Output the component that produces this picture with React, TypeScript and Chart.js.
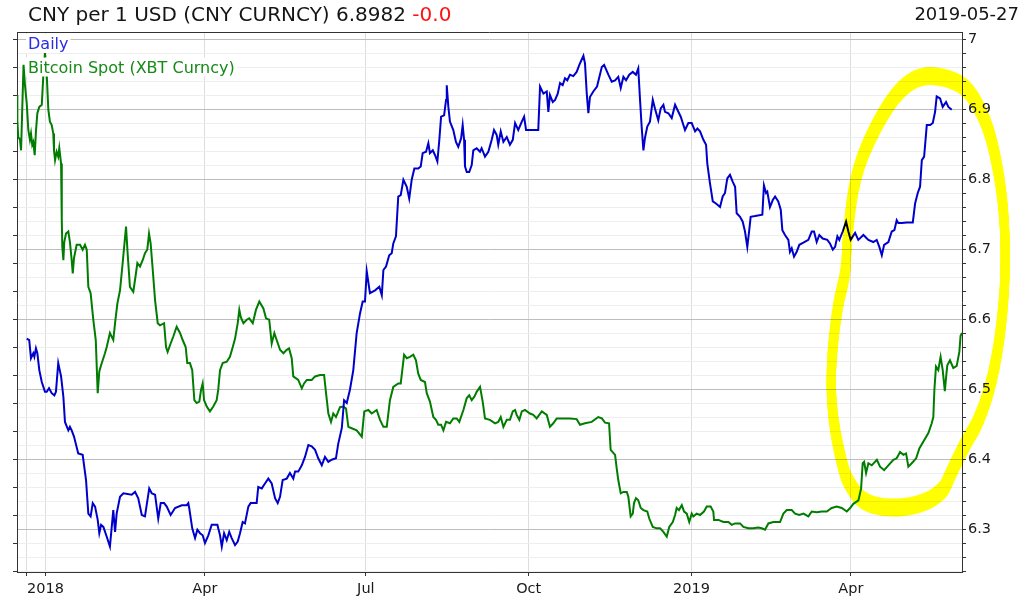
import { useEffect, useRef } from 'react';
import { Chart, registerables } from 'chart.js';

Chart.register(...registerables);

const FONT = "'DejaVu Sans', sans-serif";

const titleMain = 'CNY per 1 USD (CNY CURNCY) 6.8982';
const titleChange = '-0.0';
const dateLabel = '2019-05-27';
const legendLabels = ['Daily', 'Bitcoin Spot (XBT Curncy)'];

// x axis: days since 2018-01-01
const xMin = -16.1;
const xMax = 517.8;
const xTickDays = [-10.5, 0, 90, 181, 273, 365, 455];
const xTickLabels = ['', '2018', 'Apr', 'Jul', 'Oct', '2019', 'Apr'];

const yMin = 6.2386;
const yMax = 7.01;
const yLabelValues = [6.3, 6.4, 6.5, 6.6, 6.7, 6.8, 6.9, 7.0];
const yLabelTexts = ['6.3', '6.4', '6.5', '6.6', '6.7', '6.8', '6.9', '7'];

// CNY per USD (day, value)
const cnyPoints: [number, number][] = [
  [-10.6,6.572],[-9.2,6.570],[-8.2,6.544],[-6.9,6.551],[-6.3,6.546],[-5.4,6.558],[-4.6,6.551],[-3.5,6.527],[-2.1,6.510],[-0.3,6.496],[0.7,6.496],[2.0,6.501],[3.5,6.494],[5.0,6.491],[5.9,6.496],[7.2,6.537],[8.8,6.518],[10.1,6.489],[11.0,6.453],[12.9,6.441],[13.8,6.446],[14.8,6.441],[16.1,6.432],[18.5,6.408],[21.0,6.406],[22.9,6.370],[24.2,6.322],[25.5,6.318],[26.7,6.337],[28.0,6.332],[29.5,6.313],[30.4,6.294],[31.4,6.306],[32.7,6.303],[34.6,6.289],[36.4,6.275],[38.3,6.327],[39.3,6.296],[40.2,6.322],[42.1,6.346],[44.0,6.351],[48.7,6.349],[50.6,6.353],[52.4,6.344],[54.4,6.320],[56.2,6.318],[58.6,6.358],[60.0,6.351],[61.9,6.349],[63.7,6.315],[65.1,6.337],[67.0,6.337],[68.5,6.332],[70.7,6.320],[73.2,6.330],[77.0,6.334],[79.8,6.334],[80.7,6.337],[81.2,6.330],[82.9,6.301],[84.5,6.287],[85.8,6.299],[87.3,6.294],[88.8,6.291],[90.1,6.280],[92.0,6.291],[93.9,6.306],[97.1,6.306],[98.6,6.291],[99.6,6.275],[100.9,6.294],[102.4,6.284],[103.8,6.296],[105.2,6.287],[107.1,6.277],[108.6,6.282],[109.9,6.294],[111.4,6.310],[112.7,6.308],[114.6,6.332],[115.9,6.337],[119.3,6.337],[120.2,6.360],[122.2,6.358],[124.0,6.365],[125.9,6.372],[127.8,6.365],[129.7,6.344],[131.2,6.337],[132.5,6.346],[134.0,6.370],[136.3,6.372],[138.1,6.380],[140.0,6.372],[141.0,6.382],[142.8,6.382],[144.8,6.391],[146.6,6.403],[148.5,6.420],[150.4,6.418],[152.3,6.413],[154.1,6.401],[156.1,6.391],[157.9,6.403],[159.8,6.396],[161.7,6.399],[164.1,6.401],[165.4,6.422],[167.4,6.444],[168.7,6.484],[170.2,6.480],[172.0,6.499],[173.9,6.527],[175.8,6.580],[177.7,6.608],[179.2,6.625],[180.5,6.625],[181.5,6.668],[183.3,6.637],[186.2,6.641],[188.6,6.646],[190.0,6.634],[190.9,6.670],[192.4,6.675],[194.2,6.691],[195.6,6.694],[196.5,6.708],[198.0,6.718],[199.3,6.775],[200.7,6.777],[202.2,6.799],[204.1,6.789],[205.5,6.772],[206.9,6.799],[208.4,6.815],[210.6,6.815],[212.0,6.818],[213.1,6.837],[215.0,6.839],[216.3,6.851],[217.2,6.837],[218.8,6.841],[220.1,6.834],[221.4,6.825],[222.5,6.856],[223.5,6.889],[225.2,6.891],[226.3,6.913],[226.7,6.934],[227.6,6.903],[228.5,6.882],[230.4,6.870],[231.9,6.853],[233.2,6.846],[234.8,6.858],[235.7,6.877],[236.5,6.856],[237.0,6.818],[238.0,6.810],[239.4,6.810],[240.8,6.820],[241.7,6.841],[243.6,6.844],[245.5,6.839],[246.4,6.844],[248.3,6.832],[250.2,6.839],[252.1,6.856],[253.4,6.870],[254.9,6.863],[255.8,6.849],[257.2,6.868],[258.7,6.853],[260.6,6.860],[262.4,6.849],[264.0,6.856],[265.3,6.880],[267.1,6.870],[269.1,6.882],[270.4,6.889],[271.5,6.870],[273.7,6.870],[278.4,6.870],[279.4,6.932],[281.3,6.922],[283.2,6.925],[284.1,6.896],[285.0,6.920],[286.6,6.910],[287.9,6.913],[289.4,6.922],[290.7,6.937],[292.2,6.934],[293.5,6.944],[294.8,6.941],[296.3,6.949],[298.2,6.947],[300.1,6.953],[301.6,6.963],[303.9,6.976],[304.8,6.965],[305.8,6.922],[306.7,6.894],[307.6,6.917],[309.5,6.925],[311.6,6.932],[314.3,6.960],[315.6,6.963],[318.0,6.949],[319.9,6.939],[321.8,6.941],[323.6,6.946],[325.0,6.930],[326.5,6.946],[328.0,6.941],[329.8,6.949],[331.8,6.953],[333.6,6.949],[334.9,6.958],[335.9,6.913],[336.8,6.875],[337.8,6.841],[338.7,6.859],[340.0,6.875],[341.5,6.882],[343.1,6.913],[344.4,6.900],[346.2,6.884],[347.6,6.901],[349.1,6.906],[350.0,6.896],[351.9,6.894],[353.8,6.887],[355.7,6.906],[357.0,6.899],[358.9,6.889],[361.3,6.870],[363.2,6.880],[365.1,6.880],[367.0,6.868],[368.3,6.872],[369.8,6.868],[371.7,6.856],[373.2,6.849],[373.9,6.822],[375.4,6.794],[377.0,6.768],[378.8,6.765],[381.1,6.760],[382.6,6.775],[383.9,6.780],[385.2,6.801],[386.7,6.806],[388.3,6.796],[389.6,6.789],[390.5,6.751],[392.4,6.746],[393.9,6.739],[395.2,6.725],[396.5,6.703],[397.6,6.727],[398.4,6.746],[400.9,6.747],[405.0,6.749],[405.9,6.791],[407.1,6.780],[407.8,6.782],[409.3,6.760],[410.9,6.770],[412.2,6.775],[414.0,6.768],[415.4,6.756],[416.3,6.727],[417.8,6.720],[419.7,6.713],[420.6,6.696],[421.6,6.701],[422.9,6.689],[424.4,6.696],[425.9,6.706],[428.2,6.709],[431.0,6.713],[432.9,6.725],[434.2,6.725],[435.7,6.710],[437.2,6.720],[439.1,6.715],[441.7,6.713],[443.2,6.708],[444.8,6.699],[446.1,6.703],[447.4,6.718],[448.5,6.713],[450.4,6.725],[452.3,6.739],[453.6,6.725],[454.9,6.713],[457.4,6.723],[459.2,6.713],[462.1,6.720],[464.9,6.713],[467.7,6.710],[469.6,6.713],[471.1,6.703],[472.5,6.691],[473.8,6.706],[476.2,6.710],[478.1,6.725],[479.6,6.727],[480.9,6.741],[481.8,6.737],[483.8,6.737],[486.6,6.738],[490.0,6.738],[491.3,6.765],[492.8,6.780],[494.1,6.789],[495.1,6.827],[496.4,6.832],[497.9,6.877],[499.8,6.877],[501.3,6.880],[502.6,6.896],[503.5,6.918],[505.4,6.915],[506.9,6.903],[508.8,6.910],[510.1,6.903],[512.0,6.899]
];

// Bitcoin spot, plotted on the same scale (day, value)
const xbtPoints: [number, number][] = [
  [-16.1,6.920],[-15.9,6.884],[-15.4,6.860],[-14.4,6.856],[-13.8,6.841],[-13.1,6.903],[-12.4,6.963],[-11.6,6.934],[-10.6,6.908],[-9.7,6.870],[-8.8,6.856],[-8.2,6.865],[-7.5,6.849],[-6.9,6.853],[-6.1,6.834],[-5.4,6.868],[-4.6,6.894],[-3.5,6.903],[-2.1,6.906],[-1.2,6.949],[-0.3,6.981],[0.7,6.949],[1.6,6.899],[2.5,6.882],[3.5,6.877],[4.4,6.865],[4.8,6.841],[5.4,6.827],[6.3,6.839],[7.2,6.832],[7.8,6.844],[8.8,6.822],[9.2,6.741],[9.5,6.703],[10.1,6.684],[10.6,6.710],[11.6,6.722],[12.9,6.725],[13.8,6.710],[14.8,6.684],[15.4,6.665],[16.1,6.687],[17.6,6.706],[19.5,6.706],[21.0,6.699],[22.3,6.706],[23.3,6.699],[24.2,6.646],[25.5,6.637],[27.0,6.599],[28.4,6.570],[29.5,6.494],[30.4,6.525],[31.4,6.534],[33.6,6.551],[34.6,6.560],[36.4,6.580],[38.3,6.570],[39.3,6.594],[40.6,6.622],[42.1,6.641],[43.6,6.680],[45.5,6.732],[46.4,6.694],[47.7,6.646],[49.6,6.639],[51.1,6.665],[51.9,6.680],[53.4,6.675],[54.9,6.684],[56.2,6.694],[57.5,6.699],[58.5,6.722],[59.4,6.708],[60.6,6.670],[61.9,6.627],[63.4,6.594],[64.7,6.591],[67.0,6.594],[68.1,6.560],[69.0,6.553],[70.7,6.565],[72.2,6.575],[74.1,6.589],[76.0,6.580],[77.5,6.570],[79.2,6.560],[80.1,6.537],[81.6,6.537],[82.9,6.527],[84.1,6.484],[85.4,6.480],[86.9,6.482],[87.9,6.499],[88.8,6.508],[89.6,6.484],[91.1,6.475],[92.9,6.468],[94.8,6.475],[96.7,6.484],[97.6,6.499],[98.6,6.527],[100.1,6.537],[102.4,6.539],[104.2,6.546],[105.8,6.560],[107.1,6.572],[108.6,6.594],[109.5,6.613],[110.3,6.603],[111.8,6.594],[113.7,6.599],[115.1,6.601],[117.1,6.594],[118.9,6.613],[120.8,6.625],[123.1,6.615],[124.6,6.601],[126.4,6.599],[127.8,6.565],[129.3,6.580],[130.6,6.570],[132.5,6.556],[134.4,6.551],[136.3,6.556],[137.6,6.558],[139.1,6.544],[140.0,6.518],[142.8,6.513],[144.8,6.501],[146.1,6.508],[147.6,6.513],[150.4,6.513],[152.3,6.518],[155.1,6.520],[157.4,6.520],[158.5,6.494],[159.8,6.465],[161.3,6.453],[162.6,6.465],[164.1,6.460],[166.4,6.474],[168.3,6.475],[169.8,6.472],[171.1,6.446],[173.0,6.444],[175.8,6.441],[178.7,6.432],[180.1,6.468],[182.4,6.470],[184.3,6.465],[187.1,6.470],[189.0,6.456],[190.9,6.446],[192.8,6.446],[194.6,6.484],[196.5,6.503],[199.3,6.508],[200.7,6.508],[202.6,6.549],[204.1,6.544],[205.9,6.546],[207.8,6.549],[209.3,6.541],[210.6,6.522],[212.0,6.513],[214.4,6.510],[215.4,6.494],[217.2,6.482],[219.1,6.460],[220.6,6.456],[221.9,6.449],[223.5,6.449],[224.8,6.441],[226.3,6.453],[228.5,6.451],[230.4,6.458],[232.3,6.458],[233.8,6.453],[236.1,6.470],[238.0,6.487],[239.4,6.491],[240.8,6.484],[242.3,6.489],[243.6,6.496],[245.5,6.503],[247.0,6.482],[248.3,6.458],[251.1,6.456],[254.0,6.451],[255.8,6.453],[257.2,6.460],[258.7,6.446],[260.6,6.456],[262.4,6.456],[264.0,6.468],[265.3,6.470],[266.2,6.463],[267.7,6.456],[269.1,6.468],[270.9,6.470],[273.7,6.465],[275.6,6.463],[277.5,6.458],[280.4,6.468],[283.2,6.463],[285.0,6.446],[286.9,6.451],[288.8,6.458],[292.6,6.458],[296.3,6.458],[300.1,6.457],[302.0,6.449],[304.8,6.451],[308.6,6.453],[312.3,6.460],[314.3,6.458],[316.1,6.452],[318.4,6.451],[319.3,6.413],[321.8,6.406],[322.7,6.387],[323.6,6.370],[325.0,6.351],[326.5,6.353],[328.4,6.353],[329.3,6.346],[330.6,6.318],[331.8,6.322],[332.5,6.337],[333.6,6.344],[334.9,6.341],[336.3,6.330],[337.8,6.327],[340.0,6.325],[341.1,6.315],[343.1,6.303],[345.3,6.301],[347.2,6.301],[349.1,6.296],[351.0,6.289],[352.4,6.303],[354.4,6.310],[355.7,6.320],[356.6,6.330],[357.9,6.327],[359.5,6.334],[360.8,6.325],[362.3,6.322],[363.7,6.310],[365.1,6.322],[366.0,6.318],[367.9,6.322],[369.8,6.320],[372.0,6.325],[373.6,6.332],[375.8,6.332],[377.3,6.325],[377.7,6.313],[380.2,6.313],[383.0,6.310],[385.8,6.310],[387.7,6.306],[389.6,6.308],[392.4,6.308],[394.3,6.303],[397.1,6.301],[399.9,6.301],[402.7,6.302],[404.7,6.301],[406.5,6.299],[408.4,6.308],[411.2,6.310],[415.0,6.310],[416.9,6.322],[418.8,6.327],[421.6,6.327],[423.5,6.322],[425.9,6.320],[428.2,6.322],[431.0,6.318],[432.9,6.325],[435.7,6.324],[438.6,6.325],[441.4,6.325],[444.2,6.330],[447.0,6.332],[449.9,6.330],[452.7,6.325],[454.6,6.330],[456.4,6.336],[459.3,6.341],[460.8,6.358],[461.7,6.394],[462.5,6.396],[463.6,6.380],[464.9,6.394],[466.8,6.391],[469.7,6.399],[471.5,6.389],[473.8,6.384],[476.2,6.391],[479.0,6.399],[480.9,6.401],[482.8,6.410],[484.7,6.406],[486.2,6.408],[487.5,6.389],[489.4,6.394],[491.9,6.401],[493.7,6.415],[496.0,6.425],[498.8,6.437],[500.7,6.451],[501.6,6.460],[502.2,6.499],[503.1,6.532],[504.4,6.527],[505.7,6.546],[506.9,6.527],[508.1,6.497],[509.0,6.522],[509.5,6.534],[511.0,6.541],[512.9,6.530],[514.8,6.533],[516.3,6.553],[517.0,6.576],[517.8,6.580]
];

// hand-drawn yellow highlight loop (day, value)
const highlightPoints: [number, number][] = [
  [495.8,6.949],[511.0,6.944],[522.3,6.927],[531.9,6.880],[537.0,6.831],[541.5,6.760],[542.7,6.666],[539.3,6.570],[533.6,6.499],[526.3,6.449],[520.7,6.427],[511.0,6.377],[507.1,6.353],[494.1,6.334],[475.4,6.329],[461.3,6.339],[454.6,6.363],[451.2,6.380],[445.0,6.451],[443.3,6.523],[447.2,6.617],[452.3,6.666],[452.8,6.713],[457.3,6.808],[469.8,6.880],[482.8,6.930]
];

const yTickValues: number[] = [];
for (let i = 0; i <= 38; i++) yTickValues.push(Math.round((6.24 + 0.02 * i) * 1000) / 1000);

const isMajor = (v: number) => yLabelValues.some((m) => Math.abs(m - v) < 1e-6);
const yLabel = (v: number) => {
  const i = yLabelValues.findIndex((m) => Math.abs(m - v) < 1e-6);
  return i >= 0 ? yLabelTexts[i] : '';
};

const decorPlugin = {
  id: 'decor',
  beforeDraw(chart: any) {
    const ctx = chart.ctx;
    ctx.save();
    ctx.fillStyle = '#ffffff';
    ctx.fillRect(0, 0, chart.width, chart.height);
    ctx.restore();
  },
  afterDatasetsDraw(chart: any) {
    const ctx = chart.ctx;
    ctx.save();
    ctx.font = `16px ${FONT}`;
    ctx.textBaseline = 'alphabetic';
    ctx.textAlign = 'left';
    const rows = [
      { text: legendLabels[0], color: '#2b2be6', y: 49 },
      { text: legendLabels[1], color: '#168a16', y: 72.5 },
    ];
    for (const r of rows) {
      const w = ctx.measureText(r.text).width;
      ctx.fillStyle = '#ffffff';
      ctx.fillRect(26, r.y - 15, w + 4, 19);
      ctx.fillStyle = r.color;
      ctx.fillText(r.text, 28, r.y);
    }
    ctx.restore();
  },
  afterDraw(chart: any) {
    const ctx = chart.ctx;
    const a = chart.chartArea;
    ctx.save();
    // top border
    ctx.strokeStyle = '#333333';
    ctx.lineWidth = 1;
    ctx.beginPath();
    ctx.moveTo(a.left, Math.round(a.top) + 0.5);
    ctx.lineTo(a.right, Math.round(a.top) + 0.5);
    ctx.stroke();

    // title
    ctx.textBaseline = 'alphabetic';
    ctx.textAlign = 'left';
    ctx.font = `20px ${FONT}`;
    ctx.fillStyle = '#151515';
    const t = titleMain + ' ';
    ctx.fillText(t, 28, 21);
    const w = ctx.measureText(t).width;
    ctx.fillStyle = '#ff1111';
    ctx.fillText(titleChange, 28 + w, 21);

    ctx.font = `18px ${FONT}`;
    ctx.textAlign = 'right';
    ctx.fillStyle = '#151515';
    ctx.fillText(dateLabel, 1019, 19.5);

    // yellow highlighter loop
    const xs = chart.scales.x;
    const ys = chart.scales.y;
    const pts = highlightPoints.map(([d, v]) => [xs.getPixelForValue(d), ys.getPixelForValue(v)]);
    ctx.globalCompositeOperation = 'multiply';
    ctx.strokeStyle = '#ffff00';
    ctx.lineWidth = 9;
    ctx.lineCap = 'round';
    ctx.lineJoin = 'round';
    const n = pts.length;
    for (const dy of [-4.5, -3, -1.5, 0, 1.5, 3, 4.5]) {
      ctx.beginPath();
      const m0x = (pts[n - 1][0] + pts[0][0]) / 2;
      const m0y = (pts[n - 1][1] + pts[0][1]) / 2 + dy;
      ctx.moveTo(m0x, m0y);
      for (let i = 0; i < n; i++) {
        const p = pts[i];
        const q = pts[(i + 1) % n];
        ctx.quadraticCurveTo(p[0], p[1] + dy, (p[0] + q[0]) / 2, (p[1] + q[1]) / 2 + dy);
      }
      ctx.closePath();
      ctx.stroke();
    }
    ctx.restore();
  },
};

export default function App() {
  const ref = useRef<HTMLCanvasElement>(null);
  useEffect(() => {
    const canvas = ref.current;
    if (!canvas) return;
    const tickFont = { family: FONT, size: 14.5 };
    const chart = new Chart(canvas, {
      type: 'line',
      data: {
        datasets: [
          {
            label: legendLabels[0],
            data: cnyPoints.map(([d, v]) => ({ x: d, y: v })),
            borderColor: '#0000cc',
            borderWidth: 2,
            pointRadius: 0,
            tension: 0,
            fill: false,
            xAxisID: 'x',
            yAxisID: 'y',
          },
          {
            label: legendLabels[1],
            data: xbtPoints.map(([d, v]) => ({ x: d, y: v })),
            borderColor: '#007d00',
            borderWidth: 2,
            pointRadius: 0,
            tension: 0,
            fill: false,
            xAxisID: 'x',
            yAxisID: 'y',
          },
        ],
      },
      options: {
        animation: false,
        responsive: false,
        devicePixelRatio: 1,
        layout: { padding: { top: 32, left: 0, right: 0, bottom: 0 } },
        plugins: { legend: { display: false }, tooltip: { enabled: false }, title: { display: false } },
        scales: {
          x: {
            type: 'linear',
            position: 'bottom',
            min: xMin,
            max: xMax,
            afterBuildTicks: (s: any) => {
              s.ticks = xTickDays.map((v) => ({ value: v }));
            },
            afterFit: (s: any) => {
              s.height = 37;
            },
            ticks: {
              autoSkip: false,
              maxRotation: 0,
              minRotation: 0,
              padding: 5,
              color: '#1a1a1a',
              font: tickFont,
              callback: (_v: any, i: number) => xTickLabels[i] ?? '',
            },
            grid: { color: '#dddddd', tickColor: '#333333', tickLength: 4, lineWidth: 1 },
            border: { display: true, color: '#333333', width: 1 },
          },
          y: {
            type: 'linear',
            position: 'right',
            min: yMin,
            max: yMax,
            afterBuildTicks: (s: any) => {
              s.ticks = yTickValues.map((v) => ({ value: v }));
            },
            afterFit: (s: any) => {
              s.width = 66;
            },
            ticks: {
              autoSkip: false,
              padding: 2,
              color: '#1a1a1a',
              font: tickFont,
              callback: (v: any) => yLabel(Number(v)),
            },
            grid: {
              color: (c: any) => (c.tick && isMajor(c.tick.value) ? '#bdbdbd' : '#eeeeee'),
              tickColor: '#333333',
              tickLength: 4,
            },
            border: { display: true, color: '#333333', width: 1 },
          },
          yL: {
            type: 'linear',
            position: 'left',
            min: yMin,
            max: yMax,
            afterBuildTicks: (s: any) => {
              s.ticks = yTickValues.map((v) => ({ value: v }));
            },
            afterFit: (s: any) => {
              s.width = 17;
            },
            ticks: { padding: 0, font: tickFont, callback: () => '' },
            grid: { drawOnChartArea: false, tickColor: '#333333', tickLength: 4 },
            border: { display: true, color: '#333333', width: 1 },
          },
        },
      } as any,
      plugins: [decorPlugin],
    });
    return () => chart.destroy();
  }, []);

  return (
    <div style={{ position: 'fixed', left: 0, top: 0, width: 1028, height: 609, background: '#ffffff' }}>
      <canvas ref={ref} width={1028} height={609} style={{ display: 'block', width: 1028, height: 609 }} />
    </div>
  );
}
